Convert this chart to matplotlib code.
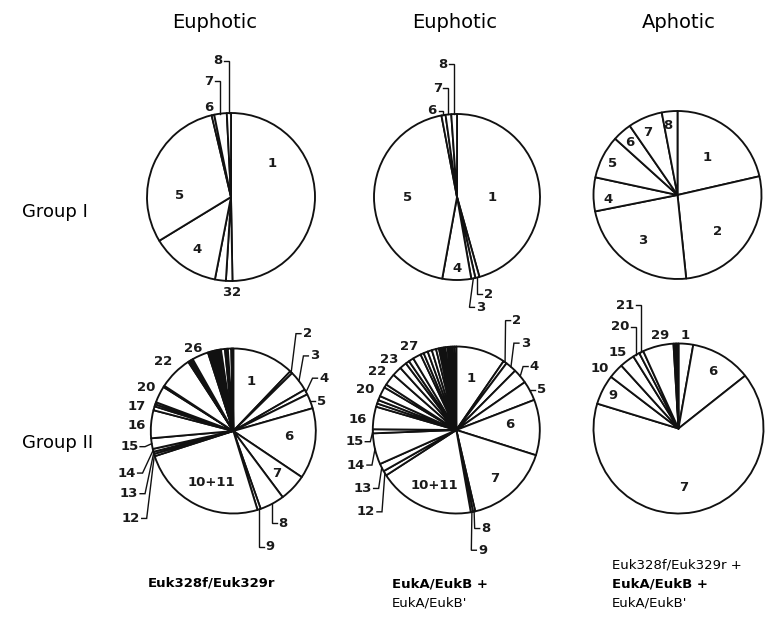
import matplotlib
matplotlib.use('Agg')
from matplotlib import pyplot as plt
import numpy as np

# ---- data: share of clones per group (%) ----
# Group I
g1_euph1_names = ['1', '2', '3', '4', '5', '6', '7', '8']
g1_euph1_pct = [49.7, 1.25, 2.1, 13.2, 30.0, 0.5, 2.4, 0.8]

g1_euph2_names = ['1', '2', '3', '4', '5', '6', '7', '8']
g1_euph2_pct = [45.6, 0.8, 0.8, 5.6, 44.1, 0.8, 1.1, 1.1]

g1_aph_names = ['1', '2', '3', '4', '5', '6', '7', '8']
g1_aph_pct = [21.4, 26.9, 23.5, 6.5, 8.3, 3.7, 6.6, 3.0]

# Group II
g2_euph1_names = ['1', '2', '3', '4', '5', '6', '7', '8', '9', '10+11',
                  '12', '13', '14', '15', '16', '17', '18', '19', '20', '21',
                  '22', '23', '24', '25', '26',
                  '', '', '', '', '', '', '', '', '', '', '', '', '', '', '']
g2_euph1_pct = [12.14, 0.5, 4.03, 1.03, 2.86, 13.89, 5.36, 4.83, 0.64, 24.81,
                0.47, 0.42, 0.56, 2.08, 5.47, 0.78, 0.42, 0.42, 3.28, 0.28,
                6.58, 0.28, 0.36, 0.36, 3.22,
                0.28, 0.28, 0.28, 0.28, 0.28, 0.28, 0.28, 0.28, 0.33, 0.78,
                0.28, 0.28, 0.67, 0.22, 0.17]

g2_euph2_names = ['1', '2', '3', '4', '5', '6', '7', '8', '9', '10+11',
                  '12', '13', '14', '15', '16', '17', '18', '19', '20', '21',
                  '22', '23', '24', '25', '26', '27', '28', '29', '30', '31',
                  '32', '', '', '', '', '', '', '', '', '', '']
g2_euph2_pct = [9.58, 0.69, 2.17, 2.86, 3.83, 10.75, 16.47, 0.44, 0.42, 18.64,
                0.94, 1.53, 6.03, 0.78, 4.36, 0.64, 0.69, 0.83, 1.86, 0.64,
                2.31, 1.86, 1.36, 0.72, 0.97, 1.58, 0.64, 0.83, 0.83, 0.83,
                0.56, 0.33, 0.28, 0.36, 0.28, 0.42, 0.28, 0.33, 0.28, 0.39,
                0.39]

g2_aph_names = ['1', '6', '7', '9', '10', '15', '20', '21', '29', '', '', '']
g2_aph_pct = [2.78, 11.56, 65.39, 5.67, 2.86, 2.83, 1.28, 0.83, 5.86,
              0.33, 0.28, 0.33]

col_titles = ['Euphotic', 'Euphotic', 'Aphotic']
row_titles = ['Group I', 'Group II']

# ---- layout ----
W, H = 780, 623
num_font = dict(fontsize=9.5, fontweight='bold', color='#1a1a1a')

# label placement: ('in', x, y) text centre, or ('lead', elbow_x, y, side)
lab_g1_euph1 = {'1': ('in', 0.49, 0.40), '5': ('in', -0.61, 0.02),
                '4': ('in', -0.40, -0.63), '3': ('in', -0.05, -1.14),
                '2': ('in', 0.07, -1.14), '6': ('in', -0.26, 1.06),
                '7': ('lead', None, 1.38, -1), '8': ('lead', None, 1.62, -1)}
lab_g1_euph2 = {'1': ('in', 0.42, -0.01), '5': ('in', -0.60, -0.01),
                '4': ('in', 0.0, -0.86),
                '2': ('lead', None, -1.17, 1), '3': ('lead', 0.15, -1.33, 1),
                '6': ('lead', None, 1.04, -1), '7': ('lead', None, 1.31, -1),
                '8': ('lead', None, 1.6, -1)}
lab_g1_aph = {'1': ('in', 0.35, 0.45), '2': ('in', 0.48, -0.43),
              '3': ('in', -0.42, -0.54), '4': ('in', -0.83, -0.05),
              '5': ('in', -0.77, 0.38), '6': ('in', -0.57, 0.63),
              '7': ('in', -0.36, 0.74), '8': ('in', -0.11, 0.83)}
lab_g2_euph1 = {'1': ('in', 0.22, 0.6), '6': ('in', 0.67, -0.07),
                '7': ('in', 0.53, -0.51), '10+11': ('in', -0.26, -0.63),
                '2': ('lead', 0.76, 1.18, 1), '3': ('lead', 0.85, 0.91, 1),
                '4': ('lead', 0.96, 0.64, 1), '5': ('lead', None, 0.36, 1),
                '8': ('lead', None, -1.12, 1), '9': ('lead', None, -1.40, 1),
                '12': ('lead', -1.05, -1.06, -1), '13': ('lead', -1.07, -0.76, -1),
                '14': ('lead', -1.10, -0.51, -1), '15': ('lead', -1.07, -0.19, -1),
                '16': ('in', -1.17, 0.07), '17': ('in', -1.17, 0.30),
                '20': ('in', -1.05, 0.53), '22': ('in', -0.85, 0.84),
                '26': ('in', -0.49, 1.0)}
lab_g2_euph2 = {'1': ('in', 0.18, 0.62), '6': ('in', 0.64, 0.06),
                '7': ('in', 0.46, -0.58), '10+11': ('in', -0.26, -0.66),
                '2': ('lead', 0.59, 1.31, 1), '3': ('lead', 0.69, 1.04, 1),
                '4': ('lead', 0.80, 0.76, 1), '5': ('lead', None, 0.48, 1),
                '8': ('lead', 0.22, -1.18, 1), '9': ('lead', 0.18, -1.44, 1),
                '12': ('lead', -0.89, -0.98, -1), '13': ('lead', -0.93, -0.70, -1),
                '14': ('lead', -1.01, -0.42, -1), '15': ('lead', -1.03, -0.14, -1),
                '16': ('in', -1.18, 0.12), '20': ('in', -1.09, 0.48),
                '22': ('in', -0.95, 0.70), '23': ('in', -0.8, 0.84),
                '27': ('in', -0.57, 1.0)}
lab_g2_aph = {'1': ('in', 0.08, 1.10), '29': ('in', -0.22, 1.10),
              '6': ('in', 0.40, 0.67), '7': ('in', 0.06, -0.69),
              '9': ('in', -0.77, 0.39), '10': ('in', -0.93, 0.71),
              '15': ('in', -0.71, 0.89),
              '20': ('lead', None, 1.20, -1), '21': ('lead', None, 1.45, -1)}


def draw_pie(fig, names, values, center, radius, labels):
    cx, cy = center
    ext = 1.9
    size = 2 * ext * radius
    ax = fig.add_axes([(cx - ext * radius) / W, (H - cy - ext * radius) / H,
                       size / W, size / H])
    wedges, _ = ax.pie(values, startangle=90, counterclock=False, radius=1,
                       wedgeprops=dict(facecolor='white', edgecolor='#111111',
                                       linewidth=1.35, joinstyle='round'))
    # pie() resets the limits, so fix them afterwards
    ax.set_xlim(-ext, ext)
    ax.set_ylim(-ext, ext)
    ax.axis('off')
    for name, spec in labels.items():
        wd = wedges[names.index(name)]
        mid = np.radians((wd.theta1 + wd.theta2) / 2)
        rx, ry = np.cos(mid), np.sin(mid)
        if spec[0] == 'in':
            ax.text(spec[1], spec[2], name, ha='center', va='center',
                    clip_on=False, **num_font)
        else:
            _, ex, ty, side = spec
            if ex is None:
                ex = rx
            ax.plot([rx, ex, ex + side * 0.06], [ry, ty, ty], color='#111111',
                    lw=1.0, clip_on=False, solid_joinstyle='miter')
            ax.text(ex + side * 0.08, ty, name, va='center',
                    ha='left' if side > 0 else 'right', clip_on=False, **num_font)
    return ax


def main():
    fig = plt.figure(figsize=(W / 100, H / 100), dpi=100)

    draw_pie(fig, g1_euph1_names, g1_euph1_pct, (231, 197), 84, lab_g1_euph1)
    draw_pie(fig, g1_euph2_names, g1_euph2_pct, (457, 197), 83, lab_g1_euph2)
    draw_pie(fig, g1_aph_names, g1_aph_pct, (677.5, 195), 84, lab_g1_aph)
    draw_pie(fig, g2_euph1_names, g2_euph1_pct, (233.3, 431), 82.5, lab_g2_euph1)
    draw_pie(fig, g2_euph2_names, g2_euph2_pct, (456.3, 430), 83.5, lab_g2_euph2)
    draw_pie(fig, g2_aph_names, g2_aph_pct, (678.5, 428.5), 85, lab_g2_aph)

    # column and row titles
    for x, t in zip([215, 455, 679], col_titles):
        fig.text(x / W, 1 - 22 / H, t, ha='center', va='center', fontsize=14)
    for y, t in zip([212, 443], row_titles):
        fig.text(22 / W, 1 - y / H, t, ha='left', va='center', fontsize=13)

    # primer captions
    cap = dict(fontsize=9.5, ha='left', va='center')
    fig.text(148 / W, 1 - 583 / H, 'Euk328f/Euk329r', fontweight='bold', **cap)
    fig.text(392 / W, 1 - 584 / H, 'EukA/EukB +', fontweight='bold', **cap)
    fig.text(392 / W, 1 - 603 / H, "EukA/EukB'", **cap)
    fig.text(612 / W, 1 - 565 / H, 'Euk328f/Euk329r +', **cap)
    fig.text(612 / W, 1 - 584 / H, 'EukA/EukB +', fontweight='bold', **cap)
    fig.text(612 / W, 1 - 603 / H, "EukA/EukB'", **cap)

    fig.savefig('out.png', dpi=100, facecolor='white')


if __name__ == "__main__":
    main()
